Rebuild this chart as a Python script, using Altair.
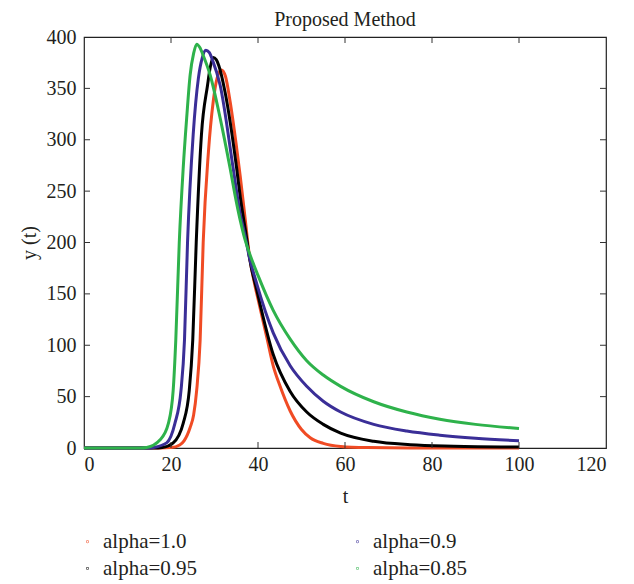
import altair as alt
import pandas as pd

labels = ["alpha=1.0", "alpha=0.95", "alpha=0.9", "alpha=0.85"]
colors = ["#F04B24", "#000000", "#3A2E97", "#2EB24B"]

t_red = [0, 15, 20, 22, 23, 24.4, 25.2, 25.9, 26.7, 27.4, 28.6, 29.7, 30.6, 31.6, 32.5, 33.6, 35.0, 35.9, 37.0, 38.0, 39.3, 40.0, 42.0, 43.5, 45.0, 47.4, 50.0, 52.0, 55.0, 59.0, 65.0, 75.0, 100.0]
y_red = [0, 0, 0.5, 3, 7, 20, 32, 56, 105, 200, 288, 337, 360, 368, 362, 337, 295, 265, 225, 188, 158, 145, 108, 80, 61, 36, 18, 10, 4.5, 1.5, 0.4, 0, 0]

t_blk = [0, 16, 18, 20.5, 22.8, 24.2, 25.0, 25.8, 27.0, 28.4, 29.0, 29.7, 30.4, 31.0, 32.4, 35.1, 35.9, 37.5, 38.0, 39.7, 43.5, 47.4, 51.2, 55.0, 59.0, 66.6, 75.0, 85.0, 100.0]
y_blk = [0, 0, 0.5, 5, 24, 56, 105, 200, 305, 353, 370, 380, 378, 372, 347, 272, 245, 201, 186, 154, 91, 55, 35, 23, 14.5, 6.5, 3.2, 1.8, 1]

t_blu = [0, 15, 16, 19, 20.9, 22.3, 23.1, 23.8, 25.1, 26.3, 27.2, 28.0, 28.8, 29.5, 31.3, 34.3, 35.9, 37.0, 38.0, 39.7, 43.5, 47.4, 51.2, 55.0, 59.0, 66.6, 74.2, 81.8, 90.0, 100.0]
y_blu = [0, 0, 0.5, 5, 24, 56, 105, 200, 305, 360, 380, 387, 385, 378, 353, 272, 228, 207, 186, 160, 112, 80, 60, 45.5, 35, 23, 16.5, 12.5, 9.5, 7]

t_grn = [0, 13, 14.4, 17.5, 19.4, 20.5, 21.1, 21.9, 22.8, 23.6, 24.4, 25.2, 25.9, 26.6, 27.5, 29.0, 31.3, 33.6, 35.0, 36.0, 37.0, 38.0, 40.0, 43.5, 47.4, 51.2, 55.0, 59.0, 66.6, 74.2, 81.8, 90.0, 100.0]
y_grn = [0, 0, 0.5, 8, 24, 56, 105, 200, 272, 321, 363, 384, 393, 390, 381, 363, 321, 272, 240, 220, 203, 190, 168, 134, 106, 85, 71, 60, 45, 35, 28, 23, 19]

x_ticks = [0, 20, 40, 60, 80, 100, 120]
y_ticks = [0, 50, 100, 150, 200, 250, 300, 350, 400]

rows = []
for lab, ts, ys_ in [("alpha=1.0", t_red, y_red), ("alpha=0.95", t_blk, y_blk),
                     ("alpha=0.9", t_blu, y_blu), ("alpha=0.85", t_grn, y_grn)]:
    for i, (t, y) in enumerate(zip(ts, ys_)):
        rows.append({"t": t, "y": y, "series": lab, "i": i})
df = pd.DataFrame(rows)

W, H = 522, 411
FONT = "Liberation Serif"
TXT = "#231F20"

xs = alt.Scale(domain=[0, 120], nice=False, zero=False)
ys = alt.Scale(domain=[0, 400], nice=False)

lines = alt.Chart(df).mark_line(strokeWidth=3, interpolate="monotone").encode(
    x=alt.X("t:Q", scale=xs, axis=alt.Axis(values=x_ticks, ticks=False, title="t",
                                            labelPadding=6, titlePadding=12, domain=False, grid=False)),
    y=alt.Y("y:Q", scale=ys, axis=alt.Axis(values=y_ticks, ticks=False, title="y (t)",
                                            labelPadding=8, titlePadding=7, domain=False, grid=False)),
    color=alt.Color("series:N", scale=alt.Scale(domain=labels, range=colors),
                    legend=alt.Legend(title=None, orient="none", legendX=-7, legendY=494,
                                      columns=2, values=labels, symbolType="circle", symbolSize=0.3,
                                      symbolStrokeWidth=2.3,
                                      labelFont=FONT, labelFontSize=21, labelColor=TXT,
                                      labelOffset=5, columnPadding=149, rowPadding=5)),
    order="i:Q",
)

xt = pd.DataFrame({"v": x_ticks[1:-1]})
yt = pd.DataFrame({"v": y_ticks[1:-1]})

tick_len = 6
bx = alt.Chart(xt).mark_rule(color="#333", strokeWidth=1).encode(
    x=alt.X("v:Q", scale=xs), y=alt.value(H), y2=alt.value(H - tick_len))
tx = alt.Chart(xt).mark_rule(color="#333", strokeWidth=1).encode(
    x=alt.X("v:Q", scale=xs), y=alt.value(0), y2=alt.value(tick_len))
ly = alt.Chart(yt).mark_rule(color="#333", strokeWidth=1).encode(
    y=alt.Y("v:Q", scale=ys), x=alt.value(0), x2=alt.value(tick_len))
ry = alt.Chart(yt).mark_rule(color="#333", strokeWidth=1).encode(
    y=alt.Y("v:Q", scale=ys), x=alt.value(W), x2=alt.value(W - tick_len))

chart = alt.layer(lines, bx, tx, ly, ry).properties(
    width=W, height=H,
    title=alt.Title("Proposed Method", font=FONT, fontSize=20, fontWeight="normal",
                    color=TXT, anchor="middle", offset=-3),
    autosize=alt.AutoSizeParams(type="none"),
    padding={"left": 76, "top": 29, "right": 10, "bottom": 135},
).configure_view(stroke="#222", strokeWidth=1.2).configure_axis(
    labelFont=FONT, labelFontSize=20, labelColor=TXT,
    titleFont=FONT, titleFontSize=20, titleColor=TXT, titleFontWeight="normal",
)

chart.save("out.html", embed_options={"renderer": "svg", "actions": False})
